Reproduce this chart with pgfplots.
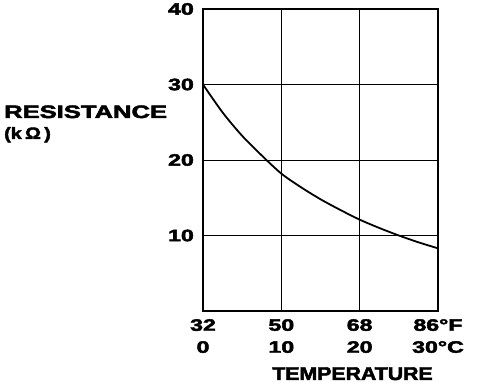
\documentclass[border=0pt]{standalone}
\usepackage{fontspec}
\setmainfont{Liberation Sans}[UprightFont=* Bold, FakeBold=2.5]
\usepackage{pgfplots}
\pgfplotsset{compat=1.18}
\newcommand\T[1]{\scalebox{1.4}[1]{#1}}
\begin{document}
\begin{tikzpicture}
\useasboundingbox (0pt,0pt) rectangle (496pt,388pt);
\begin{axis}[
  at={(203pt,77pt)}, anchor=south west,
  scale only axis, width=235pt, height=302pt,
  xmin=0, xmax=30, ymin=0, ymax=40,
  xtick={0,10,20,30}, ytick={10,20,30,40},
  xticklabels={{\T{32}\\\T{0}},{\T{50}\\\T{10}},{\T{68}\\\T{20}},{\T{86°F}\\\T{30°C}}},
  yticklabels={\T{10},\T{20},\T{30},\T{40}},
  major tick length=0pt,
  grid=major,
  grid style={black, line width=0.9pt},
  axis line style={black, line width=2pt},
  xticklabel style={align=center, anchor=north, inner sep=0pt, yshift=-8pt, font=\fontsize{16.5}{22}\selectfont},
  yticklabel style={anchor=east, inner sep=0pt, xshift=-9pt, font=\fontsize{16.5}{19}\selectfont},
]
\addplot[black, line width=1.8pt, smooth] coordinates {
 (0,30) (2.5,26.3) (5,23.2) (7.5,20.6) (10,18.2) (12.5,16.4) (15,14.8)
 (17.5,13.4) (20,12.1) (22.5,11.0) (25,10.0) (27.5,9.1) (30,8.3)};
\end{axis}
\node[anchor=base west, inner sep=0pt, font=\fontsize{18}{20}\selectfont] at (4pt,270pt) {\scalebox{1.42}[1]{RESISTANCE}};
\node[anchor=base west, inner sep=0pt, font=\fontsize{16.5}{18}\selectfont] at (4pt,249pt) {\scalebox{1.2}[1]{(k\,Ω\,)}};
\node[anchor=base, inner sep=0pt, font=\fontsize{18.5}{20}\selectfont] at (352.5pt,8pt) {\scalebox{1.15}[1]{TEMPERATURE}};
\end{tikzpicture}
\end{document}
